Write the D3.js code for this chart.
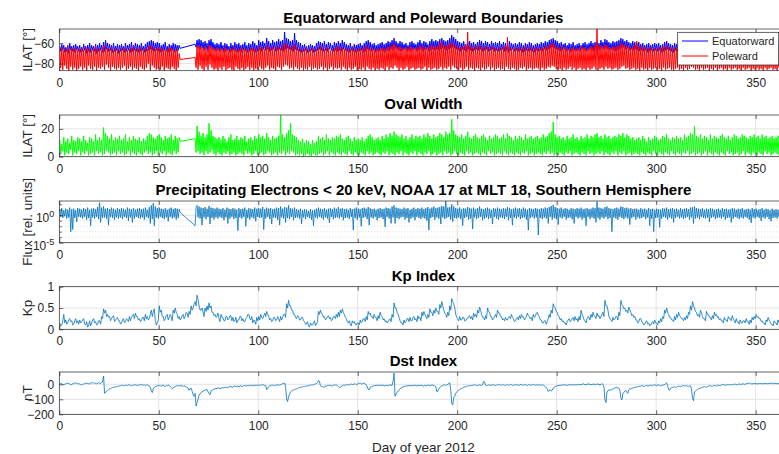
<!DOCTYPE html>
<html><head><meta charset="utf-8">
<script src="https://cdn.jsdelivr.net/npm/d3@7/dist/d3.min.js"></script>
<style>
body{margin:0;background:#fff}
text{font-family:"Liberation Sans",Arial,Helvetica,sans-serif}
</style></head>
<body><svg id="chart" width="779" height="454"></svg>
<script>
// Two samples per day (first / second half of each day), day index 0..365.
// Days 61-67 have no satellite passes (null).
const dayTicks = [0, 50, 100, 150, 200, 250, 300, 350];

// Equatorward boundary, ILAT [deg]
const equatorAm = [
-63,-61,-62,-64,-62,-60,-63,-62,-61,-63,
-62,-64,-61,-63,-62,-60,-62,-63,-61,-62,
-60,-62,-59,-57,-60,-61,-62,-60,-63,-61,
-62,-61,-63,-60,-62,-61,-59,-62,-60,-61,
-62,-60,-63,-61,-59,-58,-57,-58,-60,-59,
-60,-62,-61,-59,-63,-61,-62,-60,-61,-62,
-62,null,null,null,null,null,null,null,-61,-57,
-56,-57,-59,-58,-60,-57,-56,-59,-61,-60,
-61,-59,-62,-60,-61,-63,-60,-62,-59,-61,
-60,-62,-61,-59,-62,-60,-61,-58,-60,-62,
-57,-59,-58,-60,-55,-58,-60,-57,-59,-58,
-56,-58,-57,-49,-55,-56,-58,-57,-50,-57,
-59,-60,-62,-61,-63,-62,-61,-62,-63,-60,
-58,-59,-60,-58,-61,-59,-60,-62,-59,-60,
-58,-60,-57,-59,-61,-62,-60,-63,-61,-62,
-61,-60,-62,-60,-58,-57,-59,-61,-60,-62,
-61,-60,-59,-61,-60,-58,-59,-57,-55,-58,
-60,-58,-59,-61,-60,-62,-59,-58,-60,-61,
-59,-57,-60,-58,-59,-61,-58,-56,-58,-57,
-58,-56,-55,-57,-58,-57,-55,-52,-54,-56,
-58,-59,-60,-58,-61,-59,-58,-60,-59,-61,
-59,-57,-58,-60,-58,-59,-61,-58,-60,-59,
-60,-58,-61,-59,-60,-62,-58,-60,-61,-60,
-61,-59,-60,-62,-60,-61,-59,-60,-62,-61,
-60,-61,-59,-60,-58,-59,-57,-56,-55,-57,
-58,-60,-59,-61,-60,-62,-60,-61,-59,-62,
-61,-60,-62,-60,-59,-61,-60,-58,-60,-59,
-58,-60,-57,-59,-56,-57,-59,-60,-58,-59,
-58,-57,-55,-56,-58,-57,-59,-60,-58,-59,
-60,-59,-61,-60,-62,-61,-60,-62,-61,-60,
-61,-60,-62,-61,-59,-58,-60,-61,-62,-60,
-61,-60,-62,-61,-60,-62,-59,-58,-57,-58,
-59,-60,-58,-61,-60,-62,-61,-60,-59,-61,
-60,-62,-61,-60,-62,-61,-60,-63,-61,-62,
-61,-60,-62,-61,-63,-60,-62,-61,-60,-59,
-60,-61,-59,-61,-62,-60,-61,-62,-60,-61,
-62,-61,-60,-62,-61,-62];
const equatorPm = [
-68,-67,-69,-68,-70,-67,-68,-69,-67,-68,
-69,-68,-67,-70,-68,-69,-67,-68,-70,-68,
-67,-69,-68,-66,-68,-67,-69,-68,-67,-70,
-68,-67,-69,-68,-67,-69,-68,-67,-68,-69,
-68,-67,-69,-68,-67,-66,-67,-68,-67,-68,
-69,-68,-67,-68,-69,-68,-67,-69,-68,-67,
-65,null,null,null,null,null,null,null,-64,-65,
-66,-65,-67,-66,-68,-65,-66,-67,-68,-67,
-68,-67,-69,-68,-67,-69,-68,-67,-68,-69,
-68,-69,-67,-68,-69,-68,-67,-68,-69,-68,
-67,-68,-66,-67,-66,-68,-67,-66,-68,-67,
-66,-67,-68,-66,-65,-66,-67,-68,-66,-67,
-68,-69,-68,-67,-69,-68,-67,-69,-68,-67,
-66,-67,-68,-67,-68,-66,-67,-68,-67,-68,
-67,-68,-66,-67,-68,-69,-67,-68,-69,-68,
-68,-67,-69,-68,-66,-67,-68,-67,-69,-68,
-68,-67,-68,-69,-67,-68,-66,-67,-65,-66,
-67,-68,-67,-66,-68,-67,-68,-67,-66,-68,
-67,-66,-68,-67,-66,-68,-67,-66,-67,-66,
-67,-66,-65,-66,-67,-66,-65,-64,-65,-66,
-67,-68,-66,-67,-68,-66,-67,-68,-67,-66,
-67,-66,-68,-67,-66,-68,-67,-66,-68,-67,
-68,-67,-66,-68,-67,-69,-67,-66,-68,-67,
-68,-67,-69,-68,-67,-68,-67,-68,-69,-67,
-68,-67,-68,-66,-67,-66,-65,-64,-65,-66,
-67,-68,-67,-66,-68,-67,-69,-68,-67,-68,
-67,-68,-66,-67,-68,-67,-66,-67,-68,-66,
-66,-67,-65,-66,-65,-66,-67,-66,-67,-68,
-67,-66,-65,-64,-66,-65,-67,-66,-67,-66,
-67,-68,-67,-68,-67,-69,-68,-67,-68,-67,
-68,-67,-69,-68,-67,-66,-67,-68,-69,-67,
-68,-67,-69,-68,-67,-68,-66,-67,-65,-66,
-67,-68,-66,-67,-68,-69,-67,-68,-67,-68,
-68,-69,-67,-68,-69,-67,-68,-69,-68,-67,
-68,-67,-69,-68,-69,-67,-68,-67,-68,-66,
-67,-68,-67,-68,-69,-67,-68,-69,-67,-68,
-69,-68,-67,-68,-67,-68];

// Poleward boundary, ILAT [deg]
const polewardAm = [
-66,-64,-67,-66,-63,-67,-65,-66,-64,-67,
-66,-65,-67,-64,-66,-65,-67,-66,-63,-66,
-65,-67,-64,-62,-65,-66,-64,-67,-65,-66,
-67,-65,-66,-64,-67,-66,-65,-63,-66,-65,
-66,-64,-67,-65,-66,-63,-62,-64,-66,-65,
-64,-66,-65,-67,-66,-64,-65,-66,-67,-66,
-70,null,null,null,null,null,null,null,-74,-63,
-62,-64,-65,-63,-66,-62,-63,-65,-66,-64,
-66,-65,-67,-64,-66,-67,-65,-66,-64,-67,
-66,-64,-67,-65,-66,-67,-64,-65,-66,-67,
-63,-65,-64,-66,-62,-64,-65,-63,-66,-64,
-63,-65,-62,-60,-61,-63,-64,-62,-61,-64,
-66,-65,-67,-66,-64,-67,-66,-65,-67,-66,
-64,-63,-65,-66,-64,-65,-67,-66,-65,-64,
-63,-65,-64,-66,-65,-67,-66,-64,-67,-66,
-66,-65,-67,-64,-63,-64,-66,-65,-67,-66,
-65,-66,-64,-65,-66,-63,-64,-62,-60,-63,
-64,-63,-65,-66,-64,-65,-63,-64,-66,-65,
-64,-62,-65,-63,-64,-66,-63,-62,-64,-63,
-63,-61,-58,-62,-63,-62,-60,-59,-61,-62,
-64,-65,-63,-64,-62,-49,-63,-64,-65,-63,
-64,-62,-63,-65,-63,-64,-66,-63,-64,-65,
-66,-64,-65,-63,-64,-54,-63,-65,-66,-64,
-65,-64,-66,-65,-63,-66,-64,-65,-67,-64,
-65,-66,-64,-65,-63,-64,-62,-61,-60,-62,
-64,-65,-63,-66,-64,-65,-67,-65,-64,-66,
-65,-66,-63,-65,-64,-66,-65,-63,-64,-62,
-46,-63,-62,-64,-61,-62,-64,-65,-63,-64,
-63,-62,-60,-61,-63,-62,-64,-65,-63,-62,
-58,-64,-63,-65,-64,-66,-65,-64,-66,-65,
-66,-64,-65,-63,-64,-62,-64,-65,-66,-64,
-65,-64,-66,-65,-64,-66,-63,-62,-61,-63,
-64,-65,-63,-66,-64,-65,-66,-64,-63,-65,
-64,-66,-65,-64,-66,-65,-64,-67,-65,-66,
-65,-64,-66,-65,-67,-64,-66,-65,-64,-63,
-64,-65,-63,-65,-66,-64,-65,-66,-64,-65,
-66,-65,-64,-66,-65,-66];
const polewardPm = [
-84,-86,-82,-85,-87,-83,-86,-84,-87,-85,
-83,-86,-84,-87,-82,-85,-86,-83,-87,-84,
-85,-83,-86,-81,-84,-87,-83,-85,-86,-84,
-86,-84,-82,-87,-85,-83,-86,-84,-85,-87,
-83,-85,-86,-84,-80,-87,-82,-84,-86,-85,
-86,-83,-87,-84,-85,-86,-83,-85,-87,-84,
-76,null,null,null,null,null,null,null,-84,-86,
-82,-85,-87,-83,-86,-81,-84,-86,-85,-87,
-84,-86,-83,-87,-85,-84,-86,-87,-83,-85,
-86,-84,-87,-85,-83,-86,-84,-87,-85,-86,
-83,-85,-86,-84,-82,-86,-84,-85,-87,-83,
-84,-86,-83,-81,-82,-85,-84,-86,-83,-85,
-86,-84,-87,-85,-86,-83,-87,-85,-84,-86,
-85,-83,-86,-84,-87,-85,-83,-86,-84,-85,
-84,-86,-83,-85,-87,-84,-86,-85,-83,-87,
-85,-86,-84,-87,-83,-85,-86,-84,-87,-85,
-86,-84,-85,-87,-83,-86,-84,-85,-82,-84,
-87,-84,-86,-85,-83,-87,-85,-84,-86,-85,
-84,-86,-85,-83,-87,-84,-86,-85,-84,-86,
-85,-83,-86,-84,-85,-83,-86,-82,-84,-85,
-86,-84,-87,-85,-83,-86,-84,-85,-87,-84,
-85,-87,-84,-86,-85,-83,-86,-84,-87,-85,
-84,-86,-85,-87,-83,-85,-86,-84,-85,-87,
-86,-84,-85,-83,-87,-85,-84,-86,-85,-84,
-85,-87,-84,-86,-85,-83,-84,-82,-83,-85,
-86,-85,-87,-84,-86,-85,-83,-86,-84,-87,
-85,-84,-86,-85,-87,-84,-86,-85,-83,-86,
-87,-85,-84,-86,-83,-85,-84,-86,-85,-84,
-86,-85,-83,-82,-85,-84,-86,-85,-84,-86,
-85,-87,-84,-86,-85,-87,-84,-86,-85,-84,
-86,-85,-87,-84,-86,-85,-84,-86,-87,-85,
-84,-86,-85,-87,-84,-86,-85,-83,-84,-86,
-85,-87,-84,-86,-85,-84,-87,-85,-86,-84,
-87,-85,-84,-86,-85,-87,-84,-86,-85,-84,
-86,-85,-87,-84,-86,-85,-84,-87,-85,-86,
-84,-86,-85,-87,-84,-86,-85,-84,-86,-85,
-87,-84,-86,-85,-84,-86];

// Oval width, ILAT [deg]
const widthAm = [
12,9,14,11,13,10,15,12,11,14,
13,11,15,12,10,14,13,11,16,12,
14,12,21,17,15,13,16,12,14,13,
15,12,13,16,11,14,12,15,13,12,
14,11,13,12,15,17,16,14,13,15,
16,14,12,15,13,14,16,12,15,13,
14,null,null,null,null,null,null,null,13,22,
18,15,17,14,16,24,19,15,14,13,
14,12,15,13,11,14,16,12,13,15,
12,14,13,15,11,13,14,12,15,13,
16,14,15,13,17,14,12,15,13,14,
15,30,16,14,17,19,24,16,15,14,
12,11,13,10,12,11,9,12,10,11,
15,13,14,12,16,13,12,14,13,15,
14,16,13,12,14,15,13,11,14,12,
13,12,14,11,13,15,16,14,12,13,
14,12,15,13,16,14,17,15,18,16,
15,14,16,13,15,12,14,16,13,15,
14,15,13,16,14,17,15,13,16,14,
15,17,16,14,18,16,17,27,19,16,
15,14,16,13,15,18,14,13,15,16,
14,13,15,16,14,12,15,13,14,16,
15,13,14,16,13,17,15,14,12,15,
13,15,14,12,16,13,14,15,13,14,
15,13,14,16,14,15,17,18,25,16,
14,15,13,14,12,15,13,14,16,13,
14,12,15,13,14,16,13,15,14,16,
17,14,15,13,16,14,15,13,14,15,
14,16,15,17,14,16,15,13,14,12,
13,14,12,15,13,11,14,12,13,15,
14,12,13,15,14,16,13,12,14,13,
15,13,14,12,16,14,15,17,16,22,
15,14,16,13,15,14,12,16,13,15,
14,13,15,16,14,13,15,12,14,16,
15,13,14,16,15,14,13,15,14,16,
14,15,13,16,14,15,13,14,15,13,
14,15,13,14,15,14];
const widthPm = [
2,4,1,3,2,5,1,3,2,4,
1,3,2,4,1,2,3,1,4,2,
3,1,2,4,3,1,2,3,1,4,
2,3,1,2,4,1,3,2,1,3,
2,1,3,4,2,3,1,2,4,1,
3,2,4,1,3,2,1,4,2,3,
11,null,null,null,null,null,null,null,3,4,
2,3,1,4,2,3,5,2,1,3,
2,1,3,2,4,1,2,3,1,2,
3,2,1,4,2,3,1,2,4,1,
2,3,1,2,4,3,1,2,3,1,
3,2,4,1,3,2,4,3,1,2,
1,2,0,1,2,1,0,2,1,1,
2,3,1,2,4,1,3,2,1,3,
2,1,3,2,1,4,2,1,3,2,
1,3,2,1,4,2,3,1,2,3,
2,1,3,2,4,1,3,2,1,3,
2,4,1,3,2,1,3,2,4,1,
3,2,1,3,2,4,1,2,3,1,
2,3,1,4,2,3,1,2,4,2,
1,3,2,1,4,2,3,1,2,3,
2,1,3,2,1,4,2,3,1,2,
3,2,1,4,2,1,3,2,1,3,
2,1,3,2,4,1,2,3,1,2,
3,2,1,3,2,4,2,3,1,2,
1,3,2,1,3,2,4,1,2,3,
2,1,3,2,1,4,2,3,1,2,
3,2,4,1,3,2,1,3,2,4,
1,3,2,4,1,2,3,1,2,3,
2,1,3,2,1,3,2,1,4,2,
1,3,2,1,3,2,1,4,2,1,
3,2,1,3,2,4,1,2,3,1,
2,3,1,2,4,1,3,2,1,3,
2,1,3,2,1,4,2,3,1,2,
3,1,2,4,1,3,2,1,3,2,
1,3,2,1,4,2,3,1,2,3,
2,1,3,2,1,2];

// Precipitating electron flux < 20 keV, log10 of relative units
const fluxLogAm = [
1.1,1.3,0.9,1.2,1.0,1.4,1.1,1.2,0.9,1.3,
1.2,1.0,1.3,1.1,1.4,1.0,1.2,1.3,1.1,1.5,
2.3,1.4,1.6,1.2,1.3,1.1,1.4,1.2,1.0,1.3,
1.1,1.3,1.2,1.0,1.4,1.2,1.1,1.3,1.0,1.2,
1.3,1.1,1.2,1.4,1.0,1.5,1.8,2.2,1.6,1.3,
1.4,1.2,1.1,1.3,1.0,1.2,1.4,1.1,1.3,1.2,
1.1,null,null,null,null,null,null,null,-1.9,1.8,
1.6,1.4,1.3,1.5,1.2,1.7,1.4,1.3,1.2,1.4,
1.2,1.1,1.3,1.0,1.4,1.2,1.1,1.3,1.2,1.0,
1.3,1.1,1.2,1.4,1.0,1.3,1.2,1.1,1.4,1.2,
1.3,1.2,1.5,1.1,1.4,1.2,1.3,1.1,1.2,1.4,
1.3,1.6,1.2,1.5,1.4,1.8,1.3,1.2,1.4,1.1,
1.0,1.2,0.9,1.1,1.0,0.8,1.1,0.9,1.0,1.2,
1.4,1.2,1.1,1.3,1.0,1.2,1.3,1.1,1.4,1.2,
1.5,1.2,1.3,1.1,1.2,1.0,1.3,1.1,1.2,1.4,
1.2,1.1,1.3,1.4,1.2,1.5,1.3,1.1,1.2,1.0,
1.2,1.3,1.1,1.2,1.4,1.3,1.2,1.6,1.8,1.4,
1.3,1.2,1.1,1.4,1.2,1.3,1.0,1.2,1.4,1.1,
1.3,1.2,1.4,1.1,1.3,1.5,1.2,1.4,1.6,1.3,
1.4,1.5,1.7,1.6,2.6,1.4,1.5,2.0,1.6,1.3,
1.2,1.4,1.1,1.3,1.2,1.5,1.3,1.2,1.4,1.1,
1.3,1.6,1.2,1.1,1.3,1.4,1.2,1.0,1.3,1.2,
1.4,1.2,1.1,1.3,1.2,1.5,1.3,1.1,1.2,1.4,
1.2,1.3,1.1,1.4,1.2,1.0,1.3,1.2,1.1,1.3,
1.2,1.1,1.3,1.2,1.4,1.3,1.5,1.7,1.9,1.5,
1.3,1.2,1.4,1.1,1.3,1.2,1.0,1.3,1.2,1.1,
1.3,1.2,1.4,1.1,1.2,1.3,1.1,1.2,1.4,1.3,
2.5,1.4,1.3,1.2,1.5,1.6,1.3,1.2,1.1,1.3,
1.4,1.2,1.6,1.5,1.3,1.4,1.2,1.3,1.1,1.2,
1.2,1.0,1.3,1.1,1.2,1.0,1.3,1.1,1.2,1.0,
1.2,1.1,1.0,1.3,1.2,1.4,1.1,1.2,1.3,1.1,
1.2,1.0,1.3,1.1,1.2,1.3,1.1,1.4,1.5,1.6,
1.3,1.2,1.1,1.3,1.0,1.2,1.1,1.3,1.2,1.0,
1.1,1.2,1.0,1.3,1.1,1.2,1.0,1.1,1.3,1.2,
1.0,1.2,1.1,1.3,1.0,1.1,1.2,1.0,1.3,1.1,
1.2,1.0,1.1,1.3,1.0,1.2,1.1,0.9,1.2,1.0,
1.1,1.0,1.2,1.1,1.0,1.1];
const fluxLogPm = [
-0.3,-0.5,-0.2,-0.6,-0.4,-3.0,-2.6,-0.5,-1.2,-0.3,
-0.4,-0.6,-0.3,-0.8,-0.5,-1.9,-0.4,-0.6,-0.3,-0.7,
-1.3,-0.5,-0.4,-0.6,-1.8,-0.3,-0.5,-0.8,-0.4,-0.6,
-0.4,-0.7,-0.3,-0.5,-1.0,-0.4,-1.3,-0.6,-0.3,-0.5,
-0.6,-0.4,-0.8,-0.3,-0.5,-1.5,-0.7,-1.9,-0.4,-0.6,
-0.3,-0.5,-0.7,-0.4,-1.1,-0.3,-0.6,-0.4,-0.8,-0.5,
0.5,null,null,null,null,null,null,null,1.4,-0.4,
-0.6,-1.8,-0.4,-0.7,-0.3,-1.6,-0.5,-0.8,-0.4,-0.6,
-0.3,-0.5,-0.9,-0.4,-1.5,-0.6,-0.3,-0.7,-0.5,-2.8,
-0.4,-0.6,-0.3,-2.0,-0.5,-0.8,-0.4,-0.6,-1.1,-0.3,
-0.5,-0.4,-2.6,-0.6,-0.3,-0.7,-1.6,-0.4,-0.5,-0.8,
-1.8,-0.4,-0.6,-1.3,-0.5,-0.7,-0.3,-0.9,-0.5,-0.4,
-0.6,-1.6,-0.4,-0.7,-0.3,-0.5,-0.8,-1.9,-0.4,-0.6,
-0.3,-0.5,-0.8,-0.4,-0.6,-1.4,-0.3,-0.7,-0.5,-0.4,
-0.6,-0.3,-0.9,-0.5,-0.4,-0.7,-0.3,-2.7,-0.5,-0.8,
-0.4,-2.0,-0.5,-0.3,-0.7,-1.8,-0.4,-0.6,-0.3,-0.9,
-0.5,-0.4,-0.7,-2.1,-0.3,-0.6,-1.5,-0.4,-1.5,-0.5,
-0.7,-0.4,-0.3,-0.8,-0.5,-1.3,-0.6,-0.4,-0.9,-0.3,
-0.5,-0.7,-0.4,-0.6,-1.0,-2.7,-0.5,-0.3,-0.8,-0.4,
-0.6,-1.6,-0.4,-0.7,-0.5,-0.3,-0.8,-1.2,-0.5,-0.6,
-0.4,-0.7,-1.9,-0.5,-0.3,-0.8,-0.6,-2.5,-0.4,-0.7,
-0.5,-0.3,-0.9,-0.6,-0.4,-0.7,-0.5,-1.6,-0.3,-0.6,
-0.8,-0.4,-0.5,-0.7,-0.3,-0.9,-0.5,-1.8,-0.4,-0.6,
-0.3,-0.7,-0.5,-0.4,-0.8,-2.7,-0.5,-0.3,-0.6,-0.4,
-3.6,-0.5,-0.7,-0.4,-0.6,-1.5,-0.3,-0.8,-0.5,-0.7,
-1.7,-0.4,-0.6,-0.3,-0.8,-0.5,-0.4,-0.7,-1.5,-0.3,
-0.6,-0.4,-0.8,-0.5,-1.9,-0.3,-0.7,-0.4,-0.6,-1.3,
-0.5,-0.8,-0.4,-0.6,-0.3,-0.7,-0.5,-3.0,-0.4,-0.6,
-0.8,-0.3,-0.5,-0.7,-0.4,-0.6,-1.7,-0.5,-0.3,-0.8,
-0.4,-0.6,-0.5,-0.3,-0.7,-0.4,-1.9,-0.6,-3.0,-0.5,
-0.4,-2.2,-0.6,-0.3,-0.5,-0.8,-0.4,-0.6,-1.3,-0.5,
-0.3,-0.6,-0.4,-0.7,-0.5,-0.3,-0.8,-0.4,-1.5,-0.6,
-0.4,-0.7,-0.3,-0.5,-0.6,-0.4,-1.2,-0.5,-0.3,-0.7,
-0.5,-0.4,-0.6,-0.3,-0.8,-0.5,-0.4,-1.3,-0.6,-0.3,
-0.5,-0.7,-0.4,-0.6,-0.3,-0.5,-0.8,-1.4,-0.4,-0.6,
-0.3,-0.5,-1.0,-0.4,-0.6,-0.3,-0.7,-1.1,-0.5,-0.4,
-0.6,-0.3,-1.2,-0.5,-0.4,-0.6];

// Kp index (scaled to 0..1)
const kpAm = [
.15,.10,.35,.22,.15,.25,.20,.12,.25,.20,
.22,.18,.25,.10,.05,.20,.15,.25,.18,.12,
.20,.30,.48,.45,.35,.30,.25,.32,.22,.28,
.20,.15,.25,.18,.22,.30,.28,.35,.38,.30,
.25,.20,.28,.35,.30,.25,.45,.40,.20,.15,
.55,.45,.30,.25,.35,.28,.30,.45,.50,.35,
.30,.25,.35,.30,.38,.42,.55,.50,.65,.80,
.55,.45,.40,.50,.55,.62,.55,.40,.35,.30,
.25,.35,.28,.20,.30,.25,.32,.28,.20,.15,
.22,.30,.25,.18,.28,.35,.22,.15,.20,.28,
.30,.35,.25,.38,.42,.30,.25,.20,.28,.22,
.25,.30,.28,.35,.60,.68,.55,.45,.35,.25,
.30,.22,.28,.18,.12,.08,.15,.10,.20,.12,
.42,.45,.35,.30,.25,.32,.28,.22,.30,.35,
.40,.45,.48,.35,.25,.15,.12,.20,.18,.10,
.15,.22,.18,.25,.30,.42,.38,.30,.35,.28,
.32,.40,.30,.25,.20,.18,.25,.35,.62,.50,
.35,.20,.15,.22,.18,.25,.28,.20,.30,.25,
.32,.28,.40,.42,.30,.35,.48,.40,.45,.50,
.42,.58,.65,.45,.35,.40,.55,.72,.60,.35,
.25,.30,.22,.28,.20,.25,.32,.30,.38,.35,
.45,.52,.35,.28,.32,.50,.40,.30,.25,.35,
.45,.38,.30,.25,.28,.22,.30,.35,.25,.20,
.28,.32,.35,.30,.25,.38,.30,.28,.35,.30,
.40,.30,.22,.15,.20,.18,.35,.45,.60,.50,
.40,.30,.25,.20,.15,.18,.25,.20,.28,.30,
.25,.30,.45,.30,.20,.25,.28,.35,.40,.30,
.38,.32,.30,.40,.68,.55,.30,.22,.28,.25,
.30,.40,.68,.55,.50,.45,.52,.40,.35,.30,
.22,.18,.25,.15,.12,.20,.15,.10,.18,.22,
.15,.20,.25,.30,.45,.50,.35,.28,.22,.30,
.35,.40,.30,.25,.28,.32,.40,.55,.65,.50,
.40,.35,.45,.30,.25,.42,.35,.28,.32,.40,
.35,.30,.25,.20,.28,.22,.30,.25,.32,.20,
.25,.18,.22,.15,.20,.25,.18,.22,.28,.30,
.35,.30,.25,.20,.15,.22,.28,.18,.12,.20,
.15,.22,.18,.12,.20,.15];
const kpPm = [
.08,.20,.15,.12,.22,.18,.10,.20,.15,.12,
.15,.22,.12,.18,.10,.08,.22,.15,.10,.20,
.12,.25,.38,.30,.28,.20,.30,.18,.25,.20,
.12,.22,.15,.25,.18,.20,.32,.25,.30,.22,
.18,.28,.20,.25,.22,.35,.30,.48,.10,.22,
.40,.30,.20,.32,.22,.35,.20,.38,.40,.25,
.22,.32,.25,.40,.28,.35,.45,.60,.55,.70,
.45,.50,.30,.42,.45,.50,.40,.32,.28,.38,
.18,.28,.20,.30,.22,.32,.20,.18,.28,.22,
.30,.20,.18,.25,.35,.25,.30,.22,.12,.20,
.22,.28,.32,.30,.35,.22,.18,.28,.20,.30,
.18,.22,.35,.28,.50,.55,.45,.35,.28,.32,
.22,.28,.20,.12,.18,.05,.10,.15,.08,.18,
.35,.38,.28,.22,.30,.25,.20,.30,.25,.28,
.30,.38,.40,.28,.18,.20,.08,.15,.12,.15,
.10,.15,.25,.18,.22,.35,.30,.25,.28,.20,
.25,.32,.22,.18,.15,.22,.18,.28,.50,.40,
.28,.15,.10,.15,.25,.18,.20,.28,.22,.18,
.25,.20,.32,.35,.25,.28,.40,.32,.38,.42,
.35,.50,.55,.38,.28,.32,.45,.65,.50,.28,
.20,.22,.28,.20,.25,.30,.25,.22,.30,.28,
.38,.45,.28,.22,.25,.42,.30,.22,.30,.28,
.38,.30,.22,.20,.22,.28,.25,.28,.18,.25,
.22,.25,.28,.22,.30,.32,.25,.20,.28,.38,
.32,.22,.15,.20,.12,.25,.28,.38,.52,.42,
.32,.22,.18,.15,.10,.22,.18,.25,.20,.22,
.18,.22,.35,.22,.15,.30,.22,.28,.32,.25,
.30,.25,.35,.30,.55,.45,.25,.18,.22,.30,
.22,.32,.58,.48,.42,.38,.45,.32,.28,.22,
.15,.25,.18,.10,.18,.12,.08,.15,.12,.15,
.10,.15,.18,.25,.38,.40,.28,.22,.18,.22,
.28,.32,.25,.20,.22,.25,.35,.45,.55,.42,
.32,.28,.38,.25,.20,.35,.28,.22,.25,.32,
.28,.22,.20,.15,.22,.18,.25,.20,.25,.15,
.18,.12,.15,.20,.15,.18,.12,.15,.22,.25,
.28,.25,.18,.15,.10,.18,.22,.12,.08,.15,
.10,.15,.12,.08,.15,.10];

// Dst index [nT]
const dstAm = [
2,5,-3,4,8,3,-2,6,10,5,
3,-5,2,8,6,4,10,12,7,5,
8,12,55,-55,-40,-30,-25,-20,-18,-15,
-12,-8,-10,-5,-8,-3,-10,-6,-4,-8,
-5,-2,-6,-8,-3,-10,-45,-30,-15,-10,
-8,-12,-5,-15,-10,-8,-20,-25,-15,-12,
-10,-8,-15,-12,-20,-40,-25,-70,-60,-120,
-70,-55,-45,-40,-35,-60,-45,-35,-30,-28,
-25,-30,-22,-20,-25,-18,-15,-20,-12,-15,
-18,-10,-15,-8,-12,-10,-5,-8,-12,-6,
-5,-8,-3,-10,-35,-15,-8,-5,-10,-6,
-4,-2,5,10,-100,-80,-50,-40,-35,-30,
-25,-20,-18,-15,-12,-10,-8,-5,0,5,
25,-10,-15,-20,-12,-8,-5,-10,-8,-5,
-15,-20,-10,-8,-5,-3,0,-2,2,-3,
5,8,3,6,-5,-35,-20,-15,-10,-8,
-10,-5,-8,-12,-6,-10,-4,-8,75,-65,
-45,-30,-20,-15,-12,-10,-8,-12,-10,-6,
-8,-10,-5,-12,-8,-6,-10,-4,-8,-15,
-45,-20,-10,-5,-8,0,10,-130,-90,-60,
-45,-35,-28,-20,-15,-12,-10,-8,-6,-5,
-8,-4,-6,20,-5,-8,-4,-6,-3,-8,
-5,-2,-6,-4,-8,-3,-5,-2,-6,-4,
-3,-6,-2,-5,-4,-8,-3,-6,-2,-5,
-4,-2,-8,-6,-15,-30,-40,-45,-25,-15,
-10,-8,-6,-5,-3,-8,-4,-2,-5,-3,
0,-4,-2,3,-5,-1,2,-3,0,-2,
4,-5,-2,0,-105,-50,-35,-40,-30,-25,
-20,-25,-90,-60,-45,-50,-35,-30,-25,-20,
-18,-15,-12,-10,-15,-8,-12,-6,-10,-5,
-8,-4,-10,-6,-3,10,-35,-25,-20,-15,
-18,-12,-15,-10,-12,-8,-15,-10,-95,-50,
-40,-30,-25,-20,-15,-18,-12,-10,-15,-8,
-10,-6,-8,-5,-3,-6,-2,-4,-5,-1,
-3,0,-2,2,-1,3,5,10,2,4,
5,3,6,2,4,7,3,5,8,4,
6,3,5,8,4,6];
const dstPm = [
4,-2,0,6,5,-4,3,8,6,2,
-2,0,5,6,3,8,9,6,4,10,
5,15,-60,-45,-35,-28,-22,-18,-16,-12,
-10,-5,-8,-6,-4,-8,-7,-3,-6,-5,
-3,-5,-4,-6,-8,-20,-55,-20,-12,-8,
-10,-6,-12,-8,-6,-15,-30,-18,-10,-8,
-12,-10,-8,-18,-25,-30,-45,-80,-145,-100,
-65,-50,-42,-38,-50,-70,-40,-32,-28,-25,
-28,-22,-25,-18,-20,-15,-18,-12,-15,-10,
-12,-14,-8,-10,-6,-8,-10,-5,-4,-8,
-6,-2,-5,-8,-25,-10,-6,-8,-4,-3,
-6,0,3,-20,-115,-65,-45,-38,-32,-28,
-22,-18,-15,-12,-10,-6,-3,-2,3,10,
20,-15,-18,-10,-8,-6,-12,-5,-3,-8,
-22,-12,-6,-4,-2,-5,2,-1,4,0,
6,2,8,4,-15,-38,-18,-12,-8,-5,
-6,-8,-4,-10,-8,-5,-6,20,-80,-55,
-40,-25,-18,-12,-10,-8,-10,-6,-8,-12,
-6,-8,-12,-6,-10,-4,-8,-6,-10,-50,
-30,-15,-8,-3,-2,5,-40,-138,-80,-50,
-40,-30,-25,-18,-12,-10,-8,-6,-4,-8,
-5,-6,-2,15,-8,-5,-6,-4,-6,-5,
-3,-6,-2,-5,-4,-6,-2,-8,-3,-5,
-6,-2,-5,-3,-6,-2,-5,-3,-6,-4,
-6,-5,-3,-10,-25,-48,-35,-40,-20,-12,
-8,-6,-5,-3,-6,-2,-5,-4,-2,-6,
-3,-1,0,2,-2,3,-1,0,2,-4,
2,0,5,-20,-122,-45,-38,-35,-28,-22,
-25,-40,-104,-55,-40,-60,-30,-28,-22,-18,
-15,-12,-10,-12,-8,-10,-6,-8,-4,-6,
-5,-8,-6,-4,5,-10,-40,-22,-18,-20,
-15,-14,-12,-8,-10,-12,-10,-30,-109,-45,
-35,-28,-22,-18,-20,-14,-10,-12,-8,-10,
-6,-8,-4,-2,-5,-3,-4,-2,0,2,
-2,3,0,4,2,5,8,3,6,5,
3,6,4,8,5,4,6,8,5,7,
4,6,8,5,7,5];

const fluxExpTicks = [-5, 0];
const fluxExpMinor = [-4, -3, -2, -1, 1, 2];

// ---------------------------------------------------------------------
const svg = d3.select("#chart");
const defs = svg.append("defs");
const FONT = '"Liberation Sans", Arial, Helvetica, sans-serif';
const AX = "#262626", GRID = "#e3e3e3";
const x = d3.scaleLinear().domain([0, 366]).range([59.3, 787.5]);
const L = x.range()[0], R = x.range()[1];

// Interleave the two samples of every day; missing days are skipped,
// so the trace joins straight across the data gap.
function samples(am, pm) {
  const pts = [];
  for (let i = 0; i < am.length; i++) {
    if (am[i] != null) pts.push([i + 0.25, am[i]]);
    if (pm[i] != null) pts.push([i + 0.75, pm[i]]);
  }
  return pts;
}

function panel(cfg) {
  const {id, top, bottom, y, title, ylabel, yTicks} = cfg;
  const g = svg.append("g");
  defs.append("clipPath").attr("id", id).append("rect")
    .attr("x", L).attr("y", top).attr("width", R - L).attr("height", bottom - top);

  // grid
  g.append("g").selectAll("line").data(dayTicks.filter(d => d > 0)).join("line")
    .attr("x1", d => x(d)).attr("x2", d => x(d)).attr("y1", top).attr("y2", bottom)
    .attr("stroke", GRID).attr("stroke-width", 1);
  if (yTicks) {
    g.append("g").selectAll("line").data(yTicks).join("line")
      .attr("x1", L).attr("x2", R).attr("y1", d => y(d)).attr("y2", d => y(d))
      .attr("stroke", GRID).attr("stroke-width", 1);
  }
  const plot = g.append("g").attr("clip-path", `url(#${id})`);

  // x axis (ticks pointing inward), labels below every panel
  const xb = g.append("g").attr("transform", `translate(0,${bottom})`)
    .call(d3.axisBottom(x).tickValues(dayTicks).tickSize(-4).tickPadding(7.5));
  const xt = g.append("g").attr("transform", `translate(0,${top})`)
    .call(d3.axisTop(x).tickValues(dayTicks).tickSize(-4).tickFormat(""));
  [xb, xt].forEach(a => {
    a.select(".domain").remove();
    a.attr("font-family", FONT).attr("font-size", 12);
    a.selectAll("line").attr("stroke", AX).attr("stroke-width", 0.7);
    a.selectAll("text").attr("fill", AX);
  });

  // y axis
  if (yTicks) {
    const ya = g.append("g").attr("transform", `translate(${L},0)`)
      .call(d3.axisLeft(y).tickValues(yTicks).tickSize(-4).tickPadding(5)
        .tickFormat(cfg.yFormat || d3.format("")));
    ya.select(".domain").remove();
    ya.attr("font-family", FONT).attr("font-size", 12);
    ya.selectAll("line").attr("stroke", AX).attr("stroke-width", 0.7);
    ya.selectAll("text").attr("fill", AX);
  }

  g.append("text").attr("x", (L + R) / 2).attr("y", top - 6)
    .attr("text-anchor", "middle").attr("font-weight", "bold").attr("font-size", 15)
    .attr("fill", "#000").text(title);
  g.append("text").attr("transform", `translate(32,${(top + bottom) / 2}) rotate(-90)`)
    .attr("text-anchor", "middle").attr("font-size", 13.5).attr("fill", AX).text(ylabel);

  return {g, plot, frame() {
    g.append("rect").attr("x", L).attr("y", top).attr("width", R - L).attr("height", bottom - top)
      .attr("fill", "none").attr("stroke", AX).attr("stroke-width", 0.7);
  }};
}

// ---- Panel 1: boundaries ----
const yB = d3.scaleLinear().domain([-87, -46]).range([70.7, 29]);
const p1 = panel({id: "c1", top: 29, bottom: 70.7, y: yB, yTicks: [-80, -60],
  title: "Equatorward and Poleward Boundaries", ylabel: "ILAT [°]"});
const lineB = d3.line().x(d => x(d[0])).y(d => yB(d[1]));
p1.plot.append("path").attr("d", lineB(samples(equatorAm, equatorPm)))
  .attr("fill", "none").attr("stroke", "#0000ff").attr("stroke-width", 1);
p1.plot.append("path").attr("d", lineB(samples(polewardAm, polewardPm)))
  .attr("fill", "none").attr("stroke", "#ff0000").attr("stroke-width", 1);
p1.frame();
// legend
const lg = p1.g.append("g");
lg.append("rect").attr("x", 677.7).attr("y", 32.3).attr("width", 101).attr("height", 32.7)
  .attr("fill", "#fff").attr("stroke", AX).attr("stroke-width", 0.7);
[["Equatorward", "#0000ff", 41], ["Poleward", "#ff0000", 56]].forEach(([t, c, yy]) => {
  lg.append("line").attr("x1", 682).attr("x2", 708).attr("y1", yy).attr("y2", yy)
    .attr("stroke", c).attr("stroke-width", 1);
  lg.append("text").attr("x", 712).attr("y", yy + 4).attr("font-size", 11)
    .attr("fill", AX).text(t);
});

// ---- Panel 2: oval width ----
const yW = d3.scaleLinear().domain([0, 30]).range([156.7, 115]);
const p2 = panel({id: "c2", top: 115, bottom: 156.7, y: yW, yTicks: [0, 20],
  title: "Oval Width", ylabel: "ILAT [°]"});
p2.plot.append("path")
  .attr("d", d3.line().x(d => x(d[0])).y(d => yW(d[1]))(samples(widthAm, widthPm)))
  .attr("fill", "none").attr("stroke", "#00ff00").attr("stroke-width", 1);
p2.frame();

// ---- Panel 3: precipitating electron flux (log axis) ----
const yF = d3.scaleLog().domain([1e-5, Math.pow(10, 2.6)]).range([242.7, 201]);
const p3 = panel({id: "c3", top: 201, bottom: 242.7, y: yF, yTicks: null,
  title: "Precipitating Electrons < 20 keV, NOAA 17 at MLT 18, Southern Hemisphere",
  ylabel: "Flux [rel. units]"});
// decade grid: dotted minor, solid major
p3.g.insert("g", ":first-child").selectAll("line").data(fluxExpMinor).join("line")
  .attr("x1", L).attr("x2", R).attr("y1", e => yF(Math.pow(10, e))).attr("y2", e => yF(Math.pow(10, e)))
  .attr("stroke", "#d2d2d2").attr("stroke-width", 0.8).attr("stroke-dasharray", "1,2");
p3.g.insert("g", ":first-child").selectAll("line").data(fluxExpTicks).join("line")
  .attr("x1", L).attr("x2", R).attr("y1", e => yF(Math.pow(10, e))).attr("y2", e => yF(Math.pow(10, e)))
  .attr("stroke", GRID).attr("stroke-width", 1);
p3.plot.append("path")
  .attr("d", d3.line().x(d => x(d[0])).y(d => yF(Math.pow(10, d[1]))) (samples(fluxLogAm, fluxLogPm)))
  .attr("fill", "none").attr("stroke", "#0072bd").attr("stroke-width", 0.8);
const yaF = p3.g.append("g").attr("transform", `translate(${L},0)`)
  .call(d3.axisLeft(yF).tickValues(fluxExpTicks.map(e => Math.pow(10, e))).tickSize(-4).tickFormat(""));
const yaFm = p3.g.append("g").attr("transform", `translate(${L},0)`)
  .call(d3.axisLeft(yF).tickValues(fluxExpMinor.map(e => Math.pow(10, e))).tickSize(-2.5).tickFormat(""));
[yaF, yaFm].forEach(a => { a.select(".domain").remove(); a.selectAll("line").attr("stroke", AX).attr("stroke-width", 0.7); });
const ft = p3.g.append("g").selectAll("text").data(fluxExpTicks).join("text")
  .attr("x", L - 5).attr("y", e => yF(Math.pow(10, e)) + 7).attr("text-anchor", "end")
  .attr("font-size", 12).attr("fill", AX);
ft.append("tspan").text("10");
ft.append("tspan").attr("dy", -5).attr("font-size", 9).text(e => String(e));
p3.frame();

// ---- Panel 4: Kp ----
const yK = d3.scaleLinear().domain([0, 1]).range([329.3, 286.7]);
const p4 = panel({id: "c4", top: 286.7, bottom: 329.3, y: yK, yTicks: [0, 0.5, 1],
  title: "Kp Index", ylabel: "Kp"});
p4.plot.append("path")
  .attr("d", d3.line().x(d => x(d[0])).y(d => yK(d[1]))(samples(kpAm, kpPm)))
  .attr("fill", "none").attr("stroke", "#0072bd").attr("stroke-width", 0.8);
p4.frame();

// ---- Panel 5: Dst ----
const yD = d3.scaleLinear().domain([-200, 82]).range([414.3, 372]);
const p5 = panel({id: "c5", top: 372, bottom: 414.3, y: yD, yTicks: [-200, -100, 0],
  title: "Dst Index", ylabel: "nT"});
p5.plot.append("path")
  .attr("d", d3.line().x(d => x(d[0])).y(d => yD(d[1]))(samples(dstAm, dstPm)))
  .attr("fill", "none").attr("stroke", "#0072bd").attr("stroke-width", 0.8);
p5.frame();

svg.append("text").attr("x", (L + R) / 2).attr("y", 451.5).attr("text-anchor", "middle")
  .attr("font-size", 13.5).attr("fill", AX).text("Day of year 2012");
</script>
</body></html>
